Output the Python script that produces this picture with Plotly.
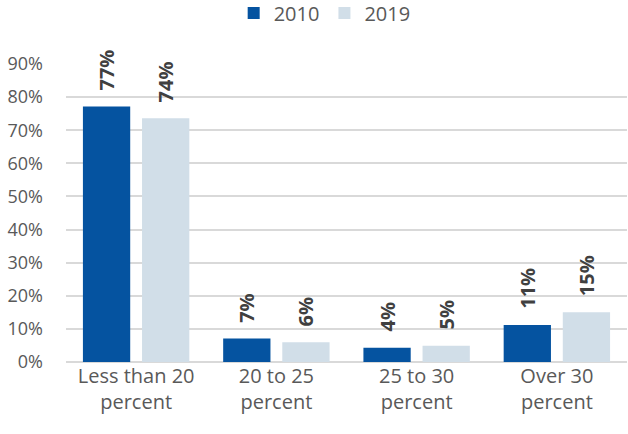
import plotly.graph_objects as go

categories = ["Less than 20<br>percent", "20 to 25<br>percent", "25 to 30<br>percent", "Over 30<br>percent"]
series_names = ["2010", "2019"]
values_2010 = [0.772, 0.071, 0.043, 0.112]
values_2019 = [0.736, 0.060, 0.049, 0.150]
labels_2010 = ["77%", "7%", "4%", "11%"]
labels_2019 = ["74%", "6%", "5%", "15%"]
tick_vals = [0, 0.1, 0.2, 0.3, 0.4, 0.5, 0.6, 0.7, 0.8, 0.9]
tick_text = ["0%", "10%", "20%", "30%", "40%", "50%", "60%", "70%", "80%", "90%"]

colors = ["#0553A0", "#D1DEE8"]
font_family = "'Open Sans', sans-serif"

fig = go.Figure()
for name, vals, col in zip(series_names, [values_2010, values_2019], colors):
    fig.add_trace(go.Bar(x=categories, y=vals, name=name, marker_color=col,
                         marker_line_width=0))

for vals, labs, shift in [(values_2010, labels_2010, -29.5), (values_2019, labels_2019, 29.5)]:
    for c, v, t in zip(categories, vals, labs):
        fig.add_annotation(x=c, y=v, text="<b>" + t + "</b>", showarrow=False,
                           textangle=-90, xanchor="center", yanchor="bottom",
                           xshift=shift, yshift=14,
                           font=dict(family=font_family, size=20, color="#404040"))

fig.update_layout(
    width=628, height=434,
    margin=dict(l=66, r=1, t=64, b=72),
    plot_bgcolor="white", paper_bgcolor="white",
    barmode="group", bargap=0.157, bargroupgap=0.2,
    font=dict(family=font_family, size=19, color="#595959"),
    legend=dict(orientation="h", xref="container", x=0.517, xanchor="center",
                yref="container", y=0.97, yanchor="middle",
                font=dict(size=20, color="#595959"), itemwidth=30),
)
fig.update_yaxes(range=[0, 0.9], tickvals=tick_vals, ticktext=tick_text,
                 showgrid=True, gridcolor="#D9D9D9", gridwidth=1.5,
                 zeroline=True, zerolinecolor="#D9D9D9", zerolinewidth=1.5,
                 ticklabelstandoff=22, automargin=False,
                 tickfont=dict(size=18, color="#595959"))
fig.update_xaxes(showline=False, automargin=False,
                 tickfont=dict(size=20, color="#595959"))

fig.write_html("out.html", config={"displayModeBar": False},
               post_script="document.body.style.margin='0';document.body.style.overflow='hidden';")
